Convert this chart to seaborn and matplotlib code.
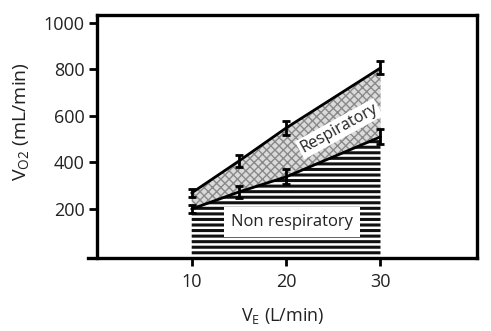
import numpy as np
import pandas as pd
import seaborn as sns
import matplotlib
matplotlib.use("Agg")
from matplotlib import pyplot as plt

sns.set_style("ticks")
plt.rcParams['font.family'] = ['Open Sans', 'DejaVu Sans']
plt.rcParams['mathtext.fontset'] = 'custom'
plt.rcParams['mathtext.rm'] = 'Open Sans'

# data
ve = [10, 15, 20, 30]
vo2_total = [269, 406, 548, 806]
vo2_total_err = [17, 26, 28, 28]
vo2_nonresp = [200, 273, 338, 510]
vo2_nonresp_err = [17, 24, 32, 32]
x_ticks = [10, 20, 30]
y_ticks = [200, 400, 600, 800, 1000]

df = pd.DataFrame({"VE": ve + ve,
                   "VO2": vo2_total + vo2_nonresp,
                   "err": vo2_total_err + vo2_nonresp_err,
                   "curve": ["total"] * 4 + ["nonresp"] * 4})

fig = plt.figure(figsize=(4.91, 3.31), dpi=100)
ax = fig.add_axes([0.179, 0.221, 0.792, 0.734])

# non respiratory area (horizontal hatching)
plt.rcParams['hatch.linewidth'] = 2.2
ax.fill_between(ve, 0, vo2_nonresp, facecolor="white", edgecolor="#111111",
                hatch="---", linewidth=0, zorder=1)
# respiratory area (dotted gray)
plt.rcParams['hatch.linewidth'] = 1.0
ax.fill_between(ve, vo2_nonresp, vo2_total, facecolor="#dadada", edgecolor="#8a8a8a",
                hatch="xxxx", linewidth=0, zorder=1)

sns.lineplot(data=df, x="VE", y="VO2", units="curve", estimator=None,
             color="black", linewidth=2, ax=ax, zorder=3)
for name, g in df.groupby("curve"):
    ax.errorbar(g["VE"], g["VO2"], yerr=g["err"], fmt="none", ecolor="black",
                elinewidth=2, capsize=3, capthick=2, zorder=4)

ax.text(25.6, 545, "Respiratory", rotation=29, ha="center", va="center", fontsize=11.5,
        color="#222222", bbox=dict(facecolor="white", edgecolor="none", pad=1.5), zorder=5)
ax.text(20.6, 145, "Non respiratory", ha="center", va="center", fontsize=12,
        color="#222222", bbox=dict(facecolor="white", edgecolor="none", pad=5), zorder=5)

ax.set_xlim(-1, 40.2)
ax.set_ylim(-10, 1034)
ax.set_xticks(x_ticks)
ax.set_yticks(y_ticks)
ax.spines["left"].set_position(("data", 0))
ax.spines["top"].set_bounds(0, 40.2)
for s in ax.spines.values():
    s.set_linewidth(2.4)
    s.set_color("black")
ax.tick_params(axis="both", length=6, width=2, labelsize=13, color="black",
               labelcolor="#222222", pad=3)
ax.tick_params(axis="x", pad=5)
ax.set_xlabel(r"V$_{\mathrm{E}}$ (L/min)", fontsize=13, color="#222222")
ax.set_ylabel(r"V$_{\mathrm{O2}}$ (mL/min)", fontsize=14, color="#222222")
ax.yaxis.set_label_coords(-0.145, 0.56)
ax.xaxis.set_label_coords(0.5, -0.2)

fig.savefig("out.png", dpi=100)
